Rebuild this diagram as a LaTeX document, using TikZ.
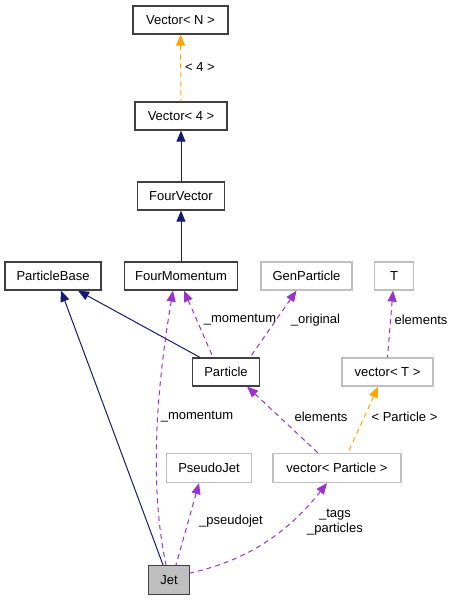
\documentclass[tikz,border=0pt]{standalone}
\usepackage{fontspec}
\setmainfont{Liberation Sans}
\usetikzlibrary{arrows.meta}
\definecolor{navy}{HTML}{191970}
\definecolor{orch}{HTML}{9A32CD}
\definecolor{orng}{HTML}{FFA500}
\definecolor{boxg}{HTML}{BFBFBF}
\definecolor{boxk}{HTML}{404040}
\begin{document}
\begin{tikzpicture}[x=1pt,y=-1pt,
  font=\fontsize{13}{15.5}\selectfont,
  cls/.style={draw=boxk,line width=1.2pt,fill=white,minimum height=28pt,inner sep=0pt},
  ext/.style={cls,draw=boxg},
  inh/.style={draw=navy,line width=1pt,{Triangle[length=11pt,width=9pt]}-},
  use/.style={draw=orch,line width=1pt,dash pattern=on 5pt off 4pt,{Triangle[length=11pt,width=9pt]}-},
  tpl/.style={draw=orng,line width=1pt,dash pattern=on 5pt off 4pt,{Triangle[length=11pt,width=9pt]}-},
  lbl/.style={inner sep=0pt}]
\useasboundingbox (0,0) rectangle (453,600);
% nodes
\node[cls,minimum width=95pt] (VN) at (180.5,20) {Vector< N >};
\node[cls,minimum width=92pt] (V4) at (181,116) {Vector< 4 >};
\node[cls,minimum width=87pt] (FV) at (181,196) {FourVector};
\node[cls,minimum width=113pt] (FM) at (181,276) {FourMomentum};
\node[cls,minimum width=96pt] (PB) at (53,276) {ParticleBase};
\node[ext,minimum width=91pt] (GP) at (306.5,276) {GenParticle};
\node[ext,minimum width=39pt] (T) at (394,276) {T};
\node[cls,minimum width=67pt] (P) at (226,372) {Particle};
\node[ext,minimum width=91pt] (VT) at (387.5,372) {vector< T >};
\node[ext,minimum width=85pt,minimum height=29pt] (PJ) at (209,468) {PseudoJet};
\node[ext,minimum width=128pt,minimum height=29pt] (VP) at (337,468) {vector< Particle >};
\node[cls,fill=boxg,minimum width=41pt,minimum height=29pt] (Jet) at (169,580) {Jet};
% edges
\draw[tpl] (VN.south) -- (V4.north);
\draw[inh] (V4.south) -- (FV.north);
\draw[inh] (FV.south) -- (FM.north);
\draw[inh] ([xshift=25pt]PB.south) -- ([xshift=-26pt]P.north);
\draw[inh] ([xshift=8pt]PB.south) -- ([xshift=-6pt]Jet.north);
\draw[use] ([xshift=3pt]FM.south) -- ([xshift=-13pt]P.north);
\draw[use] ([xshift=-10pt]GP.south) -- ([xshift=24pt]P.north);
\draw[use] ([xshift=-8pt]FM.south) .. controls (158,380) and (148,480) .. ([xshift=-3pt]Jet.north);
\draw[use] ([xshift=-1pt]T.south) -- ([xshift=0pt]VT.north);
\draw[use] ([xshift=-13pt]P.south east) -- ([xshift=-19pt]VP.north);
\draw[tpl] ([xshift=-9.5pt]VT.south) -- ([xshift=11pt]VP.north);
\draw[use] ([xshift=-10pt]PJ.south) -- ([xshift=7pt]Jet.north);
\draw[use] ([xshift=-10pt]VP.south) .. controls (290,530) and (250,560) .. ([yshift=7pt]Jet.east);
% labels
\node[lbl] (l1) at (200,67) {< 4 >};
\node[lbl] (l2) at (240,320) {\_momentum};
\node[lbl] (l3) at (315.5,320) {\_original};
\node[lbl] (l4) at (421,320) {elements};
\node[lbl] (l5) at (197,417) {\_momentum};
\node[lbl] (l6) at (321,417) {elements};
\node[lbl] (l7) at (404.5,417) {< Particle >};
\node[lbl] (l8) at (231,521) {\_pseudojet};
\node[lbl,align=center] (l9) at (335,522) {\_tags\\\_particles};
\end{tikzpicture}
\end{document}
